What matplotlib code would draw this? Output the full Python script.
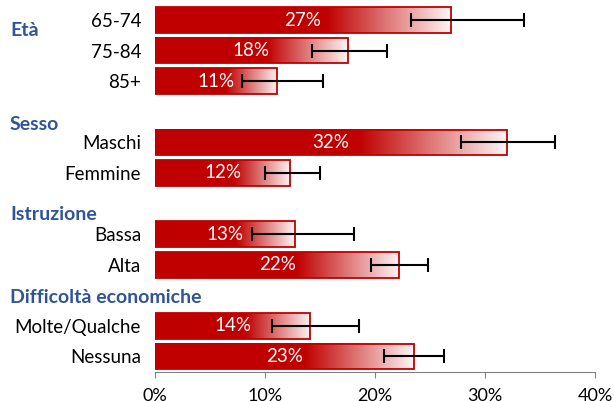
import numpy as np
import matplotlib.pyplot as plt
from matplotlib.colors import LinearSegmentedColormap

plt.rcParams['font.family'] = ['Lato', 'DejaVu Sans']

groups = ['Età', 'Sesso', 'Istruzione', 'Difficoltà economiche']
labels = ['65-74', '75-84', '85+', 'Maschi', 'Femmine', 'Bassa', 'Alta',
          'Molte/Qualche', 'Nessuna']
values = [26.9, 17.5, 11.1, 32.0, 12.3, 12.7, 22.2, 14.1, 23.5]
shown = ['27%', '18%', '11%', '32%', '12%', '13%', '22%', '14%', '23%']
err_lo = [23.3, 14.3, 7.9, 27.8, 10.0, 8.8, 19.6, 10.6, 20.8]
err_hi = [33.5, 21.1, 15.3, 36.4, 15.0, 18.1, 24.8, 18.5, 26.3]

red = '#C00000'
blue = '#2F5597'

# row positions: gap of one row between groups
pos = [0, 1, 2, 4, 5, 7, 8, 10, 11]
head_pos = [0.33, 3.41, 6.39, 9.1]

fig = plt.figure(figsize=(6.14, 4.01), dpi=100)
ax = fig.add_axes([155 / 614, 1 - 372 / 401, 440 / 614, 367 / 401])

cmap = LinearSegmentedColormap.from_list(
    'fade', [(0, red), (0.58, red), (1.0, '#FEF4F4')])
grad = np.linspace(0, 1, 256).reshape(1, -1)
h = 0.84

for i, (y, v) in enumerate(zip(pos, values)):
    ax.imshow(grad, cmap=cmap, aspect='auto', interpolation='bicubic',
              extent=(0, v, y + h / 2, y - h / 2), zorder=1)
    ax.barh(y, v, height=h, fill=False, edgecolor=red, linewidth=1.3, zorder=2)
    ax.text(v / 2, y, shown[i], color='white', ha='center', va='center',
            fontsize=13.5, zorder=4)
    ax.errorbar((err_lo[i] + err_hi[i]) / 2, y,
                xerr=(err_hi[i] - err_lo[i]) / 2, fmt='none', ecolor='black',
                elinewidth=1.5, capsize=5, capthick=1.5, zorder=3)

ax.set_xlim(0, 40)
ax.set_ylim(11 + 15.5 / 30.5, -15 / 30.5)
ax.set_yticks(pos)
ax.set_yticklabels(labels, fontsize=13.5)
ax.tick_params(axis='y', length=0, pad=10)
ax.set_xticks([0, 10, 20, 30, 40])
ax.set_xticklabels(['0%', '10%', '20%', '30%', '40%'], fontsize=13)
ax.tick_params(axis='x', length=4.5, color='#808080', pad=7)

for s in ['top', 'right', 'left']:
    ax.spines[s].set_visible(False)
ax.spines['bottom'].set_color('#808080')

for g, y in zip(groups, head_pos):
    ax.text(10 / 614, 1 - (5 + (y + 15 / 30.5) * 30.5) / 401, g,
            transform=fig.transFigure, color=blue, fontweight='bold',
            fontsize=14, ha='left', va='center')

fig.savefig('out.png', dpi=100)
